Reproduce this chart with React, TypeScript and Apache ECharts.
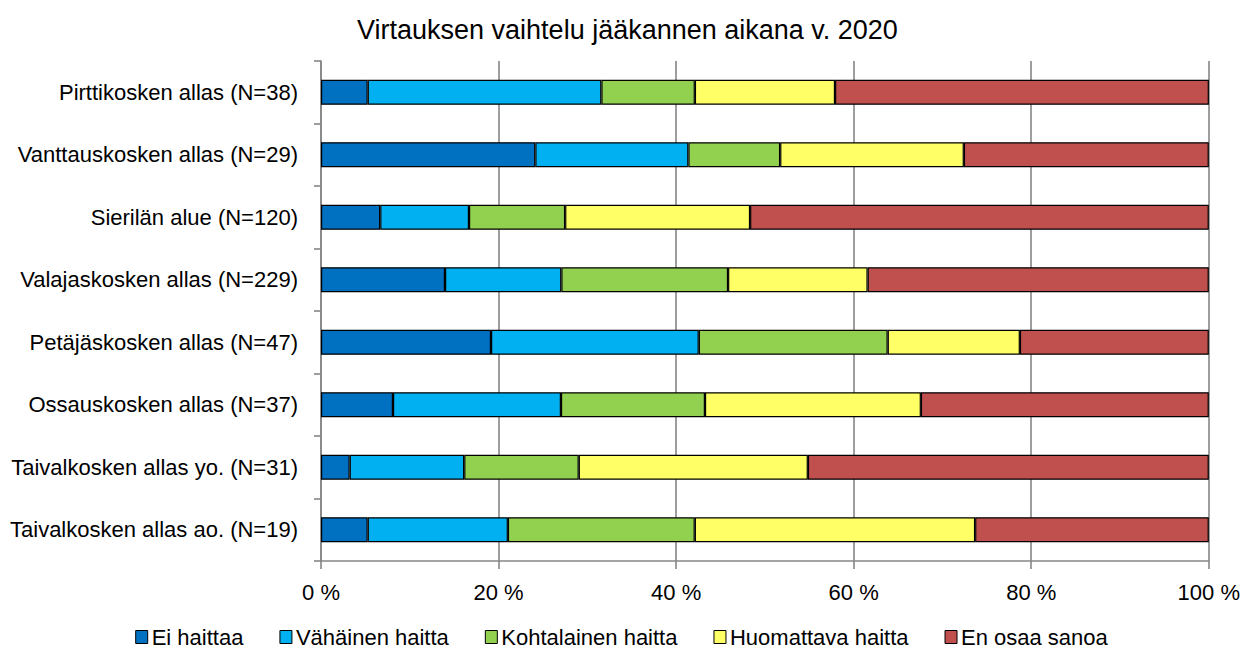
import React, { useEffect, useRef } from "react";
import * as echarts from "echarts";

const categories = [
  "Pirttikosken allas (N=38)",
  "Vanttauskosken allas (N=29)",
  "Sierilän alue (N=120)",
  "Valajaskosken allas (N=229)",
  "Petäjäskosken allas (N=47)",
  "Ossauskosken allas (N=37)",
  "Taivalkosken allas yo. (N=31)",
  "Taivalkosken allas ao. (N=19)",
];

const eiHaittaa = [5.26, 24.14, 6.67, 13.97, 19.15, 8.11, 3.23, 5.26];
const vahainen = [26.32, 17.24, 10.0, 13.1, 23.4, 18.92, 12.9, 15.79];
const kohtalainen = [10.53, 10.34, 10.83, 18.78, 21.28, 16.22, 12.9, 21.05];
const huomattava = [15.79, 20.69, 20.83, 15.72, 14.89, 24.32, 25.81, 31.58];
const enOsaa = [42.11, 27.59, 51.67, 38.43, 21.28, 32.43, 45.16, 26.32];

const xTicks = [0, 20, 40, 60, 80, 100];

const seriesDefs = [
  { name: "Ei haittaa", data: eiHaittaa, color: "#0070C0" },
  { name: "Vähäinen haitta", data: vahainen, color: "#00B0F0" },
  { name: "Kohtalainen haitta", data: kohtalainen, color: "#92D050" },
  { name: "Huomattava haitta", data: huomattava, color: "#FFFF66" },
  { name: "En osaa sanoa", data: enOsaa, color: "#C0504D" },
];

const FONT = "'Liberation Sans', Arial, sans-serif";

export default function App() {
  const ref = useRef<HTMLDivElement>(null);
  useEffect(() => {
    if (!ref.current) return;
    const chart = echarts.init(ref.current, null, { renderer: "svg" });
    chart.setOption({
      animation: false,
      backgroundColor: "#ffffff",
      textStyle: { fontFamily: FONT },
      title: {
        text: "Virtauksen vaihtelu jääkannen aikana v. 2020",
        left: 352,
        top: 11,
        textStyle: { fontFamily: FONT, fontSize: 27, fontWeight: "normal", color: "#000" },
      },
      grid: { left: 321, right: 32.5, top: 61, height: 500, containLabel: false },
      legend: {
        top: 621,
        left: "center",
        icon: "rect",
        itemWidth: 12,
        itemHeight: 13,
        itemGap: 36,
        textStyle: { fontFamily: FONT, fontSize: 22, color: "#000", padding: [0, 0, 0, -1] },
        data: seriesDefs.map((s) => ({ name: s.name, itemStyle: { color: s.color, borderColor: "#000", borderWidth: 1 } })),
      },
      xAxis: {
        type: "value",
        min: 0,
        max: 100,
        interval: 20,
        axisLine: { show: true, lineStyle: { color: "#868686", width: 1.6 } },
        axisTick: { show: true, length: 8, lineStyle: { color: "#868686", width: 1.6 } },
        splitLine: { show: true, lineStyle: { color: "#868686", width: 1.6 } },
        axisLabel: {
          margin: 20,
          fontFamily: FONT,
          fontSize: 22,
          color: "#000",
          formatter: (v: number) => (xTicks.includes(v) ? `${v} %` : ""),
        },
      },
      yAxis: {
        type: "category",
        inverse: true,
        data: categories,
        axisLine: { show: true, lineStyle: { color: "#868686", width: 1.6 } },
        axisTick: { show: true, length: 7, inside: false, lineStyle: { color: "#868686", width: 1.6 } },
        axisLabel: { margin: 23, fontFamily: FONT, fontSize: 22, color: "#000" },
      },
      series: seriesDefs.map((s) => ({
        name: s.name,
        type: "bar",
        stack: "total",
        data: s.data,
        barWidth: 25,
        itemStyle: { color: s.color, borderColor: "#000", borderWidth: 1.2 },
      })),
    });
    return () => chart.dispose();
  }, []);
  return (
    <div
      ref={ref}
      style={{ position: "absolute", left: 0, top: 0, width: 1243, height: 653 }}
    />
  );
}
